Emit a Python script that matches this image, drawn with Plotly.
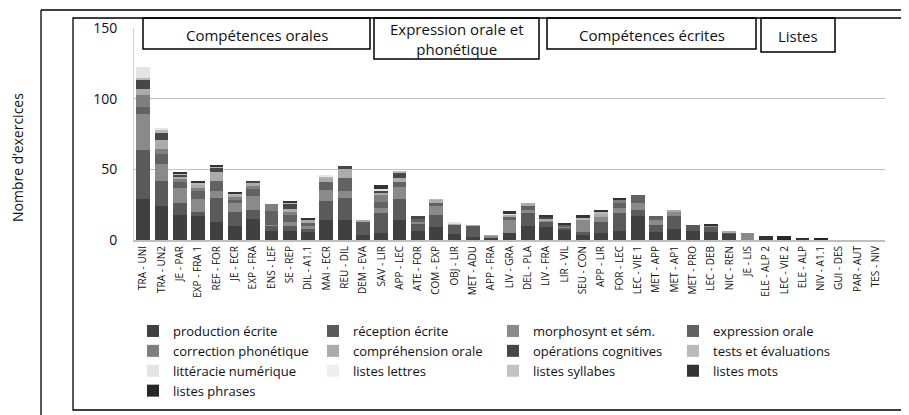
import plotly.graph_objects as go

categories = ["TRA - UNI", "TRA - UN2", "JE - PAR", "EXP - FRA 1", "REF - FOR", "JE - ECR", "EXP - FRA",
              "ENS - LEF", "SE - REP", "DIL - A1.1", "MAI - ECR", "REU - DIL", "DEM - EVA", "SAV - LIR",
              "APP - LEC", "ATE - FOR", "COM - EXP", "OBJ - LIR", "MET - ADU", "APP - FRA", "LIV - GRA",
              "DEL - PLA", "LIV - FRA", "LIR - VIL", "SEU - CON", "APP - LIR", "FOR - LEC", "LEC - VIE 1",
              "MET - APP", "MET - AP1", "MET - PRO", "LEC - DEB", "NIC - REN", "JE - LIS", "ELE - ALP 2",
              "LEC - VIE 2", "ELE - ALP", "NIV - A1.1", "GUI - DES", "PAR - AUT", "TES - NIV"]

production_ecrite = [29, 24, 17.5, 17, 13, 10, 15, 6.5, 6.5, 6, 14, 14, 3.5, 5, 14.5, 6.5, 9, 4.5, 2, 1.5, 5,
                     10, 9.5, 7.5, 3.5, 5, 6.5, 17, 6, 7.5, 6.5, 6, 4, 0, 0, 0, 0, 0, 0, 0, 0]
reception_ecrite = [35, 18, 9, 3, 16.5, 10, 6, 3.5, 3.5, 2, 13.5, 15.5, 9.5, 14, 14.5, 4.5, 8.5, 6, 8, 0, 0,
                    9, 3, 1, 2.5, 8, 12.5, 4, 4.5, 9.5, 4, 3, 1.5, 0, 0, 0, 0, 0, 0, 0, 0]
morphosynt = [25, 12, 10, 9, 5.5, 6, 10, 0.5, 3, 2, 8, 5, 0, 3.5, 8.5, 2, 6.5, 0, 0, 1.5, 9,
              2, 1.5, 1, 8, 3.5, 3.5, 5, 4, 3.5, 0, 1.5, 0, 4.7, 0, 0, 0, 0, 0, 0, 0]
expression_orale = [5, 6.5, 4.5, 5.5, 6.5, 2.5, 5, 10, 5, 2, 5.5, 9.5, 0, 4.5, 3.5, 2, 2, 0, 0, 0, 2.5,
                    3, 0, 1, 0, 0, 4, 5.5, 2.5, 0, 0, 0, 0, 0, 0, 0, 0, 0, 0, 0, 0]
correction_phonetique = [8.5, 4, 2, 2.5, 0, 2, 2, 5, 1.5, 0, 0, 0, 0, 4.5, 0, 0, 0, 0, 0, 0, 0,
                         0, 0, 0, 0, 0, 2, 0, 0, 0, 0, 0, 0, 0, 0, 0, 0, 0, 0, 0, 0]
comprehension_orale = [4, 6, 1.5, 2, 6.5, 1.5, 2, 0, 2.5, 2, 3, 6, 1.5, 1.5, 3, 0, 2.5, 1.5, 0.5, 0.3, 1.5,
                       2.5, 1, 0, 0, 2.5, 0, 0, 0, 1, 0, 0, 1, 0, 0, 0, 0, 0, 0, 0, 0]
operations_cognitives = [6.5, 5.5, 1.5, 0, 3, 0, 2, 0, 3.5, 0, 0, 2.5, 0, 2, 3.5, 2, 0, 0, 0, 0, 0,
                         0, 1, 0, 0, 0, 0, 0, 0, 0, 0, 0, 0, 0, 0, 0, 0, 0, 0, 0, 0]
tests_evaluations = [1.5, 2, 1, 1, 1, 1, 0, 0, 1, 0, 1, 0, 0, 0, 1.5, 0, 0.5, 0, 0, 0, 0,
                     0, 0, 0, 1.5, 1, 0.5, 0, 0, 0, 0, 0, 0, 0, 0, 0, 0, 0, 0, 0, 0]
litteracie_numerique = [8, 1, 0, 0, 0, 0, 0, 0, 0, 0, 0.5, 0, 0, 1.2, 0, 0, 0, 1, 0, 0, 0.7,
                        0, 0, 0, 0, 0, 0, 0, 0, 0, 0, 0, 0, 0, 0, 0, 0, 0, 0, 0, 0]
listes_lettres = [0] * 41
listes_syllabes = [0] * 41
listes_mots = [0, 0, 1, 1.5, 1, 1, 0, 0, 1, 1.5, 0, 0, 0, 2.5, 0, 0, 0, 0, 0, 0, 2,
               0, 1.5, 1.5, 2, 1, 1, 0, 0, 0, 0, 0.5, 0, 0, 2.6, 0, 0.9, 0, 0, 0, 0]
listes_phrases = [0, 0, 0, 0, 0, 0, 0, 0, 0, 0, 0, 0, 0, 0, 0, 0, 0, 0, 0, 0, 0,
                  0, 0, 0, 0, 0, 0, 0, 0, 0, 0, 0, 0, 0, 0, 2.6, 0, 0.9, 0, 0, 0]

series_names = ["production écrite", "réception écrite", "morphosynt et sém.", "expression orale",
                "correction phonétique", "compréhension orale", "opérations cognitives",
                "tests et évaluations", "littéracie numérique", "listes lettres", "listes syllabes",
                "listes mots", "listes phrases"]
series_values = [production_ecrite, reception_ecrite, morphosynt, expression_orale, correction_phonetique,
                 comprehension_orale, operations_cognitives, tests_evaluations, litteracie_numerique,
                 listes_lettres, listes_syllabes, listes_mots, listes_phrases]
series_colors = ["#404040", "#5a5a5a", "#8a8a8a", "#626262", "#7f7f7f", "#ababab", "#474747",
                 "#b9b9b9", "#e4e4e4", "#eeeeee", "#c3c3c3", "#333333", "#262626"]

FONT = "Open Sans"
fig = go.Figure()
for name, vals, col in zip(series_names, series_values, series_colors):
    fig.add_trace(go.Bar(x=categories, y=vals, name=name, marker=dict(color=col, line=dict(width=0))))

OFF = 8  # page offset of the figure inside the browser page
W, H = 909 - OFF, 415 - OFF
L, R, T, B = 134 - OFF, 24, 28 - OFF, H - (240 - OFF)
pw, ph = W - L - R, H - T - B


def px(x):
    """page pixel x -> paper"""
    return (x - OFF - L) / pw


def py(y):
    """page pixel y -> paper"""
    return (H - B - (y - OFF)) / ph


shapes = []
line = dict(color="black", width=1.3)
shapes.append(dict(type="line", xref="paper", yref="paper", x0=px(41), x1=px(930), y0=py(10), y1=py(10), line=line))
shapes.append(dict(type="line", xref="paper", yref="paper", x0=px(41), x1=px(41), y0=py(10), y1=py(430), line=line))
shapes.append(dict(type="rect", xref="paper", yref="paper", x0=px(73), x1=px(903), y0=py(18), y1=py(410), line=line))

boxes = [
    (143, 370, 18, 49, "Compétences orales"),
    (374, 539, 18, 59, "Expression orale et<br>phonétique"),
    (547, 756, 18, 49, "Compétences écrites"),
    (761, 835, 18, 52, "Listes"),
]
annotations = []
for x0, x1, y0, y1, txt in boxes:
    shapes.append(dict(type="rect", xref="paper", yref="paper", x0=px(x0), x1=px(x1), y0=py(y1), y1=py(y0),
                       line=dict(color="black", width=1.5)))
    annotations.append(dict(xref="paper", yref="paper", x=px((x0 + x1) / 2), y=py((y0 + y1) / 2 + 1),
                            xanchor="center", yanchor="middle",
                            text=txt, showarrow=False, font=dict(family=FONT, size=15, color="#111")))

annotations.append(dict(xref="paper", yref="paper", x=px(17), y=py(158), xanchor="center", yanchor="middle",
                        text="Nombre d’exercices", textangle=-90, showarrow=False,
                        font=dict(family=FONT, size=14, color="#111")))

fig.update_layout(
    width=W, height=H,
    margin=dict(l=L, r=R, t=T, b=B, autoexpand=False),
    barmode="stack", bargap=0.25,
    plot_bgcolor="white", paper_bgcolor="white",
    font=dict(family=FONT, color="#222"),
    shapes=shapes, annotations=annotations,
    legend=dict(orientation="h", x=px(133), xanchor="left", y=py(316), yanchor="top",
                font=dict(family=FONT, size=13, color="#111"), entrywidth=135, entrywidthmode="pixels",
                traceorder="normal", itemclick=False, bgcolor="rgba(0,0,0,0)", tracegroupgap=0),
    showlegend=True,
)
fig.update_xaxes(tickangle=-90, tickfont=dict(family=FONT, size=10, color="#111"), showline=True,
                 linecolor="#bfbfbf", linewidth=2, ticks="", automargin=False, showgrid=False)
fig.update_yaxes(range=[0, 150], tickvals=[0, 50, 100, 150], tickfont=dict(family=FONT, size=14, color="#111"),
                 showgrid=True, gridcolor="#c0c0c0", gridwidth=1, zeroline=False, showline=True,
                 linecolor="#d0d0d0", linewidth=1, ticks="", ticklabelstandoff=13, automargin=False)

fig.write_html("out.html")
